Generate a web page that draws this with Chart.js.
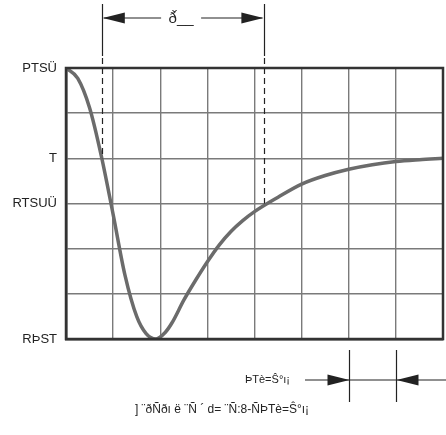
<!DOCTYPE html>
<html>
<head>
<meta charset="utf-8">
<script src="https://cdn.jsdelivr.net/npm/chart.js@4"></script>
<style>
  html, body { margin: 0; padding: 0; background: #fff; }
  #wrap { width: 446px; height: 435px; }
</style>
</head>
<body>
<div id="wrap"><canvas id="myChart" width="446" height="435"></canvas></div>
<script>
// curve (x in grid columns, y in grid rows)
const xValues = [0, 0.25, 0.5, 0.75, 1.0, 1.25, 1.5, 1.7, 1.91, 2.1, 2.25, 2.5, 2.75, 3.0, 3.25, 3.5, 3.75, 4.0, 4.5, 5.0, 5.5, 6.0, 6.5, 7.0, 7.5, 8.0];
const yValues = [6, 5.77, 5.12, 4.05, 2.76, 1.42, 0.5, 0.12, 0, 0.14, 0.36, 0.86, 1.3, 1.71, 2.08, 2.38, 2.62, 2.82, 3.14, 3.43, 3.62, 3.76, 3.86, 3.93, 3.97, 4.0];
const yTickLabels = {6: 'PTSÜ', 4: 'T', 3: 'RTSUÜ', 0: 'RÞST'};
const topMarkers = [0.76, 4.21];     // dashed verticals
const topLabel = 'ð̌__';
const bottomMarkers = [6, 7];        // solid verticals under the plot
const bottomLabel = 'ÞTè=Ŝ°ı¡';
const captionText = '] ¨ðÑðı ë ¨Ñ ´ d= ¨Ñ:8-ÑÞTè=Ŝ°ı¡';

const FONT = '"Liberation Sans", Arial, sans-serif';

function arrowHead(ctx, x, y, dir) {
    ctx.beginPath();
    ctx.moveTo(x, y);
    ctx.lineTo(x - dir * 22, y - 5.5);
    ctx.lineTo(x - dir * 22, y + 5.5);
    ctx.closePath();
    ctx.fill();
}

const annotations = {
    id: 'annotations',
    afterDraw(chart) {
        const ctx = chart.ctx;
        const xs = chart.scales.x, ys = chart.scales.y;
        ctx.save();
        ctx.strokeStyle = '#222';
        ctx.fillStyle = '#222';
        ctx.lineWidth = 1.2;

        // dashed verticals down to the curve
        const stops = [4, 3];
        topMarkers.forEach(function(v, i) {
            const px = Math.round(xs.getPixelForValue(v)) + 0.5;
            ctx.setLineDash([]);
            ctx.beginPath(); ctx.moveTo(px, 4); ctx.lineTo(px, 56); ctx.stroke();
            ctx.setLineDash([6, 4]);
            ctx.beginPath(); ctx.moveTo(px, 58); ctx.lineTo(px, ys.getPixelForValue(stops[i])); ctx.stroke();
        });
        ctx.setLineDash([]);
        const l = xs.getPixelForValue(topMarkers[0]), r = xs.getPixelForValue(topMarkers[1]);
        const ay = 18;
        const mid = (l + r) / 2 - 6;
        ctx.beginPath(); ctx.moveTo(l + 2, ay); ctx.lineTo(mid - 16, ay); ctx.stroke();
        ctx.beginPath(); ctx.moveTo(mid + 24, ay); ctx.lineTo(r - 2, ay); ctx.stroke();
        arrowHead(ctx, l + 1, ay, -1);
        arrowHead(ctx, r - 1, ay, 1);
        ctx.font = '15px ' + FONT;
        ctx.textAlign = 'center';
        ctx.textBaseline = 'middle';
        ctx.fillText(topLabel, mid + 4, ay + 1);

        // bottom width marker
        const b1 = Math.round(xs.getPixelForValue(bottomMarkers[0])) + 0.5;
        const b2 = Math.round(xs.getPixelForValue(bottomMarkers[1])) + 0.5;
        ctx.beginPath(); ctx.moveTo(b1, 350); ctx.lineTo(b1, 402); ctx.stroke();
        ctx.beginPath(); ctx.moveTo(b2, 350); ctx.lineTo(b2, 402); ctx.stroke();
        const by = 380;
        ctx.beginPath(); ctx.moveTo(305, by); ctx.lineTo(b2, by); ctx.lineTo(446, by); ctx.stroke();
        arrowHead(ctx, b1, by, 1);
        arrowHead(ctx, b2, by, -1);
        ctx.font = '11px ' + FONT;
        ctx.textAlign = 'right';
        ctx.fillText(bottomLabel, 290, by);
        ctx.font = '12px ' + FONT;
        ctx.textAlign = 'center';
        ctx.fillText(captionText, 222, 410);
        ctx.restore();
    }
};

document.addEventListener("DOMContentLoaded", function() {
    const ctx = document.getElementById('myChart').getContext('2d');
    const points = xValues.map(function(x, i) { return {x: x, y: yValues[i]}; });
    new Chart(ctx, {
        type: 'line',
        data: {
            datasets: [{
                data: points,
                borderColor: '#6b6b6b',
                borderWidth: 3.5,
                pointRadius: 0,
                cubicInterpolationMode: 'monotone',
                fill: false
            }]
        },
        options: {
            responsive: false,
            animation: false,
            layout: { padding: { top: 68, bottom: 96, right: 3, left: 0 } },
            scales: {
                x: {
                    type: 'linear',
                    min: 0, max: 8,
                    ticks: { display: false, stepSize: 1 },
                    grid: { color: '#7a7a7a', lineWidth: 1.4, drawTicks: false },
                    border: { color: '#333', width: 2.5 },
                    afterFit: function(s) { s.height = 0; }
                },
                y: {
                    min: 0, max: 6,
                    afterBuildTicks: function(s) {
                        s.ticks = [0, 1, 2, 3, 4, 5, 6].map(function(v) { return {value: v}; });
                    },
                    ticks: {
                        padding: 9,
                        color: '#222',
                        font: { family: FONT, size: 13 },
                        callback: function(v) { return yTickLabels[v] || ''; }
                    },
                    grid: { color: '#7a7a7a', lineWidth: 1.4, drawTicks: false },
                    border: { color: '#333', width: 2.5 },
                    afterFit: function(s) { s.width = 66; }
                }
            },
            plugins: {
                legend: { display: false },
                tooltip: { enabled: false }
            }
        },
        plugins: [annotations, {
            id: 'frame',
            afterDatasetsDraw(chart) {
                const a = chart.chartArea, c = chart.ctx;
                c.save();
                c.strokeStyle = '#333';
                c.lineWidth = 2.5;
                c.strokeRect(a.left, a.top, a.right - a.left, a.bottom - a.top);
                c.restore();
            }
        }]
    });
});
</script>
</body>
</html>
